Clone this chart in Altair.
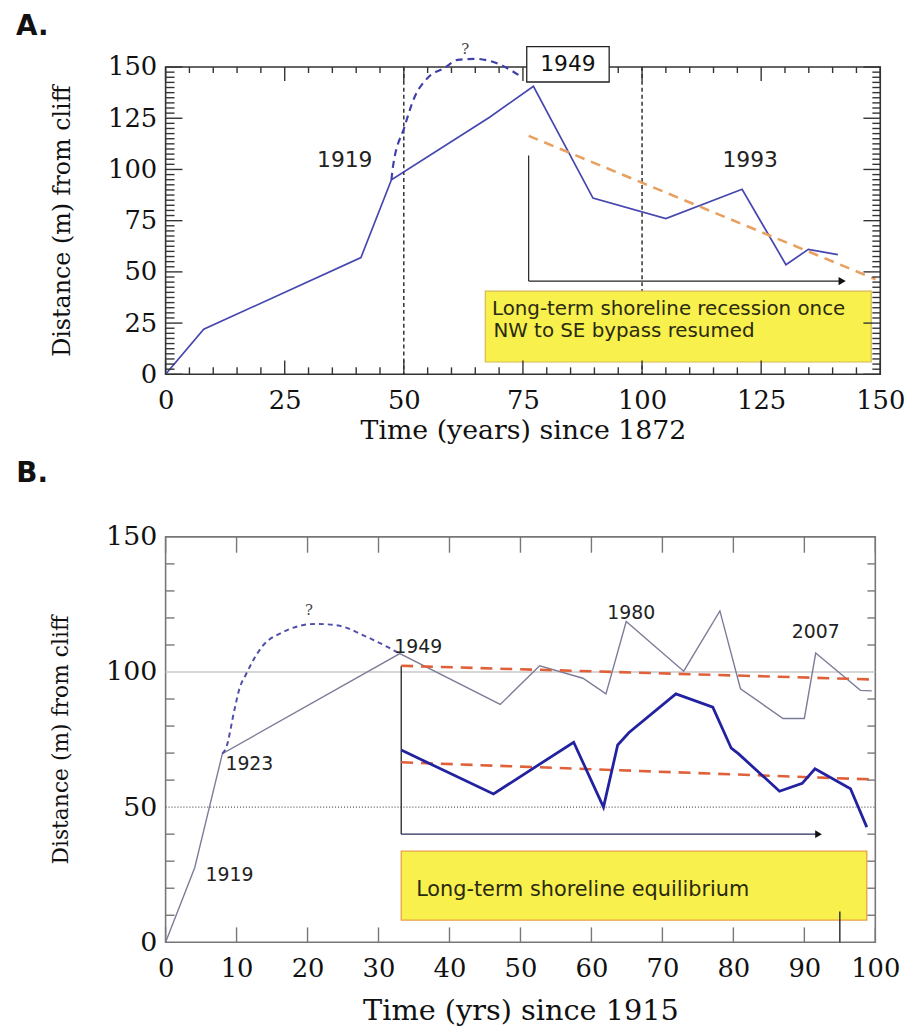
import altair as alt
import pandas as pd

# ---------------- Panel A data ----------------
a_year = [0, 8, 41, 47.4, 68, 77.2, 89.7, 105, 121, 130.2, 134.9, 141.1]
a_dist = [0, 22, 57, 95, 125.5, 140.6, 86, 76, 90.3, 53.5, 61, 58.4]
a_q_year = [47.4, 47.7, 50.1, 52.2, 55, 58.5, 61.3, 65, 68, 71, 74.5]
a_q_dist = [95, 101, 120.5, 135, 144.7, 149.5, 153.5, 154, 153, 150.3, 145.5]
a_trend_year = [76.2, 149]
a_trend_dist = [116.4, 46.4]
a_vlines = [50, 100]
a_major = [0, 25, 50, 75, 100, 125, 150]
a_x_minor = [5, 10, 15, 20, 30, 35, 40, 45, 55, 60, 65, 70, 80, 85, 90, 95,
             105, 110, 115, 120, 130, 135, 140, 145]
a_y_minor = [v * 2.5 for v in range(61) if (v * 2.5) % 25 != 0]
a_labels = ["1919", "1993"]
a_label_x = [37.6, 122.7]
a_label_y = [104.4, 104.4]
a_box_lines = ["Long-term shoreline recession once", " NW to SE bypass resumed"]
a_box_line_x = [68.5, 68.8]
a_box_line_y = [32.0, 21.2]

# ---------------- Panel B data ----------------
b_grey_year = [0, 4.1, 8, 33, 47.15, 52.7, 58.8, 62.05, 64.9, 73, 78.1, 81, 87, 90, 91.6, 97.9, 99.5]
b_grey_dist = [0, 27.6, 69.8, 106.8, 88, 102.3, 97.7, 91.9, 118.7, 100.3, 122.6, 93.8, 82.8, 82.8, 107, 93.2, 93.0]
b_q_year = [8, 8.5, 9.7, 10.4, 11.3, 13.6, 16.4, 21.1, 24.3, 28.1, 31.6, 33]
b_q_dist = [69.8, 71.8, 86, 93.8, 99, 109.4, 114.6, 117.8, 117.2, 113.3, 108.8, 106.8]
b_blue_year = [33.2, 46.2, 57.5, 61.7, 63.7, 65.3, 71.9, 77.1, 79.7, 80.7, 86.5, 89.7, 91.5, 96.5, 98.8]
b_blue_dist = [71.1, 54.9, 74, 50, 73, 77.6, 91.9, 87, 71.8, 69.8, 55.9, 58.8, 64.2, 56.8, 42.6]
b_trend_upper = [102.3, 97.2]
b_trend_lower = [66.6, 60.2]
b_trend_year = [33.2, 100]
b_x_major = [0, 10, 20, 30, 40, 50, 60, 70, 80, 90, 100]
b_y_major = [0, 50, 100, 150]
b_y_minor = [10, 20, 30, 40, 60, 70, 80, 90, 110, 120, 130, 140]
b_labels = ["1919", "1923", "1949", "1980", "2007"]
b_label_x = [9.0, 11.8, 35.6, 65.6, 91.6]
b_label_y = [25.0, 65.9, 109.4, 121.7, 114.6]

SERIF = "DejaVu Serif"
SANS = "DejaVu Sans"


def x_axis(values, title, lsize, tsize, lpad, ty, w):
    return alt.Axis(values=values, title=title, grid=False, ticks=False, domain=False,
                    labelFont=SERIF, labelFontSize=lsize, labelColor="#111", labelPadding=lpad,
                    labelFlush=False, labelOverlap=False, format="d",
                    titleFont=SERIF, titleFontSize=tsize, titleFontWeight="normal", titleColor="#111",
                    titleX=w / 2, titleY=ty, titleBaseline="middle", titleAlign="center")


def y_axis(values, title, lsize, tsize, lpad, tx, h):
    return alt.Axis(values=values, title=title, grid=False, ticks=False, domain=False,
                    labelFont=SERIF, labelFontSize=lsize, labelColor="#111", labelPadding=lpad,
                    labelFlush=False, labelOverlap=False, format="d",
                    titleFont=SERIF, titleFontSize=tsize, titleFontWeight="normal", titleColor="#111",
                    titleX=tx, titleY=h / 2, titleBaseline="middle", titleAlign="center", titleAngle=-90)


def df(**cols):
    return pd.DataFrame(cols)


# ================= Panel A =================
WA, HA = 721, 310
sxa = alt.Scale(domain=[0, 150], nice=False, zero=False)
sya = alt.Scale(domain=[0, 150], nice=False, zero=False)
XA = alt.X("x:Q", scale=sxa, axis=x_axis(a_major, "Time (years) since 1872", 26, 27, 14, 57, WA))
YA = alt.Y("y:Q", scale=sya, axis=y_axis(a_major, "Distance (m) from cliff", 26, 24, 9, -104, HA))

a_layers = []
# vertical dashed lines
a_layers.append(alt.Chart(df(x=a_vlines)).mark_rule(color="#111", strokeWidth=1.3, strokeDash=[4, 3]).encode(
    x=XA, y=alt.value(0), y2=alt.value(HA)))
# yellow box
a_layers.append(alt.Chart(df(x=[67.1], x2=[148.1], y=[6.0], y2=[40.6])).mark_rect(
    fill="#f8f04c", stroke="#d8b850", strokeWidth=1.2).encode(x=XA, x2="x2:Q", y=YA, y2="y2:Q"))
a_layers.append(alt.Chart(df(x=a_box_line_x, y=a_box_line_y, t=a_box_lines)).mark_text(
    font=SANS, fontSize=20, color="#2a2a10", align="left", baseline="middle").encode(x=XA, y=YA, text="t:N"))
# annotation lines
a_layers.append(alt.Chart(df(x=[76.2, 76.2], x2=[76.2, 142], y=[45.5, 45.5], y2=[106.8, 45.5])).mark_rule(
    color="#222", strokeWidth=1.2).encode(x=XA, x2="x2:Q", y=YA, y2="y2:Q"))
a_layers.append(alt.Chart(df(x=[142], y=[45.5])).mark_point(
    shape="triangle-right", filled=True, size=70, color="#111", opacity=1).encode(x=XA, y=YA))
# main line
a_layers.append(alt.Chart(df(x=a_year, y=a_dist)).mark_line(color="#4646b0", strokeWidth=1.7).encode(
    x=XA, y=YA, order="x:Q"))
# trend
a_layers.append(alt.Chart(df(x=a_trend_year, y=a_trend_dist)).mark_line(
    color="#e8a060", strokeWidth=2.6, strokeDash=[10, 7]).encode(x=XA, y=YA))
# dashed "?" curve
a_layers.append(alt.Chart(df(x=a_q_year, y=a_q_dist)).mark_line(
    color="#4040a8", strokeWidth=2.2, strokeDash=[7, 5], interpolate="monotone").encode(x=XA, y=YA))
# ticks
tick_a = dict(color="#333", strokeWidth=1.4)
a_layers.append(alt.Chart(df(x=a_major)).mark_rule(**tick_a).encode(x=XA, y=alt.value(HA), y2=alt.value(HA - 14)))
a_layers.append(alt.Chart(df(x=a_major)).mark_rule(**tick_a).encode(x=XA, y=alt.value(0), y2=alt.value(14)))
a_layers.append(alt.Chart(df(x=a_x_minor)).mark_rule(**tick_a).encode(x=XA, y=alt.value(HA), y2=alt.value(HA - 7)))
a_layers.append(alt.Chart(df(x=a_x_minor)).mark_rule(**tick_a).encode(x=XA, y=alt.value(0), y2=alt.value(6)))
a_layers.append(alt.Chart(df(y=a_major)).mark_rule(**tick_a).encode(y=YA, x=alt.value(0), x2=alt.value(17)))
a_layers.append(alt.Chart(df(y=a_major)).mark_rule(**tick_a).encode(y=YA, x=alt.value(WA), x2=alt.value(WA - 17)))
a_layers.append(alt.Chart(df(y=a_y_minor)).mark_rule(**tick_a).encode(y=YA, x=alt.value(0), x2=alt.value(9)))
a_layers.append(alt.Chart(df(y=a_y_minor)).mark_rule(**tick_a).encode(y=YA, x=alt.value(WA), x2=alt.value(WA - 8)))
# 1949 box (on top of the frame and ticks)
a_layers.append(alt.Chart(df(x=[75.8], x2=[93.1], y=[142.7], y2=[160.0])).mark_rect(
    fill="white", stroke="#222", strokeWidth=1.3).encode(x=XA, x2="x2:Q", y=YA, y2="y2:Q"))
a_layers.append(alt.Chart(df(x=[84.45], y=[151.3], t=["1949"])).mark_text(
    font=SANS, fontSize=22, color="#111", baseline="middle").encode(x=XA, y=YA, text="t:N"))
# labels
a_layers.append(alt.Chart(df(x=a_label_x, y=a_label_y, t=a_labels)).mark_text(
    font=SANS, fontSize=22, color="#222", baseline="middle").encode(x=XA, y=YA, text="t:N"))
a_layers.append(alt.Chart(df(x=[62.9], y=[159], t=["?"])).mark_text(
    font=SERIF, fontSize=15, color="#444", baseline="middle").encode(x=XA, y=YA, text="t:N"))
# panel letter
a_layers.append(alt.Chart(df(t=["A."])).mark_text(
    font=SANS, fontSize=28, fontWeight="bold", color="#111", align="left", baseline="middle").encode(
    x=alt.value(-151), y=alt.value(-40), text="t:N"))

panel_a = alt.layer(*a_layers).properties(
    width=WA, height=HA, view=alt.ViewBackground(stroke="#333", strokeWidth=1.6))

# ================= Panel B =================
WB, HB = 716, 409
sxb = alt.Scale(domain=[0, 100], nice=False, zero=False)
syb = alt.Scale(domain=[0, 150], nice=False, zero=False)
XB = alt.X("x:Q", scale=sxb, axis=x_axis(b_x_major, "Time (yrs) since 1915", 26, 29, 14, 69, WB))
YB = alt.Y("y:Q", scale=syb, axis=y_axis(b_y_major, "Distance (m) from cliff", 27, 22, 9, -106, HB))

b_layers = []
b_layers.append(alt.Chart(df(y=[100])).mark_rule(color="#c8c8c8", strokeWidth=1.6).encode(
    y=YB, x=alt.value(0), x2=alt.value(WB)))
b_layers.append(alt.Chart(df(y=[50])).mark_rule(color="#555", strokeWidth=1.1, strokeDash=[1, 2]).encode(
    y=YB, x=alt.value(0), x2=alt.value(WB)))
# yellow box
b_layers.append(alt.Chart(df(x=[33.2], x2=[98.8], y=[8.2], y2=[33.7])).mark_rect(
    fill="#f8f04c", stroke="#e8a040", strokeWidth=1.3).encode(x=XB, x2="x2:Q", y=YB, y2="y2:Q"))
b_layers.append(alt.Chart(df(x=[35.3], y=[19.2], t=["Long-term shoreline equilibrium"])).mark_text(
    font=SANS, fontSize=21, color="#2a2a10", align="left", baseline="middle").encode(x=XB, y=YB, text="t:N"))
# annotation lines
b_layers.append(alt.Chart(df(x=[33.2], x2=[33.2], y=[40.0], y2=[102.3])).mark_rule(
    color="#222", strokeWidth=1.3).encode(x=XB, x2="x2:Q", y=YB, y2="y2:Q"))
b_layers.append(alt.Chart(df(x=[33.2], x2=[92], y=[40.0], y2=[40.0])).mark_rule(
    color="#2a2a5a", strokeWidth=1.4).encode(x=XB, x2="x2:Q", y=YB, y2="y2:Q"))
b_layers.append(alt.Chart(df(x=[92], y=[40.0])).mark_point(
    shape="triangle-right", filled=True, size=60, color="#111", opacity=1).encode(x=XB, y=YB))
# grey line
b_layers.append(alt.Chart(df(x=b_grey_year, y=b_grey_dist)).mark_line(color="#7c7c98", strokeWidth=1.4).encode(
    x=XB, y=YB, order="x:Q"))
# dashed "?" curve
b_layers.append(alt.Chart(df(x=b_q_year, y=b_q_dist)).mark_line(
    color="#5050a8", strokeWidth=2.0, strokeDash=[5, 4], interpolate="monotone").encode(x=XB, y=YB))
# trend lines
b_layers.append(alt.Chart(df(x=b_trend_year + b_trend_year, y=b_trend_upper + b_trend_lower,
                             g=["u", "u", "l", "l"])).mark_line(
    color="#e0603a", strokeWidth=2.6, strokeDash=[12, 8]).encode(x=XB, y=YB, detail="g:N"))
# thick blue line
b_layers.append(alt.Chart(df(x=b_blue_year, y=b_blue_dist)).mark_line(color="#2222a0", strokeWidth=2.8).encode(
    x=XB, y=YB, order="x:Q"))
# labels
b_layers.append(alt.Chart(df(x=b_label_x, y=b_label_y, t=b_labels)).mark_text(
    font=SANS, fontSize=19, color="#222", baseline="middle").encode(x=XB, y=YB, text="t:N"))
b_layers.append(alt.Chart(df(x=[20.2], y=[123], t=["?"])).mark_text(
    font=SERIF, fontSize=15, color="#444", baseline="middle").encode(x=XB, y=YB, text="t:N"))
# ticks
tick_b = dict(color="#777", strokeWidth=1.4)
b_layers.append(alt.Chart(df(x=b_x_major)).mark_rule(**tick_b).encode(x=XB, y=alt.value(HB), y2=alt.value(HB - 15)))
b_layers.append(alt.Chart(df(x=b_x_major)).mark_rule(**tick_b).encode(x=XB, y=alt.value(0), y2=alt.value(16)))
b_layers.append(alt.Chart(df(y=b_y_minor)).mark_rule(**tick_b).encode(y=YB, x=alt.value(0), x2=alt.value(9)))
b_layers.append(alt.Chart(df(y=b_y_minor)).mark_rule(**tick_b).encode(y=YB, x=alt.value(WB), x2=alt.value(WB - 8)))
b_layers.append(alt.Chart(df(x=[95], x2=[95], y=[0], y2=[11.4])).mark_rule(color="#333", strokeWidth=1.5).encode(
    x=XB, x2="x2:Q", y=YB, y2="y2:Q"))
# panel letter
b_layers.append(alt.Chart(df(t=["B."])).mark_text(
    font=SANS, fontSize=28, fontWeight="bold", color="#111", align="left", baseline="middle").encode(
    x=alt.value(-150.7), y=alt.value(-63.2), text="t:N"))

panel_b = alt.layer(*b_layers).properties(
    width=WB, height=HB, view=alt.ViewBackground(stroke="#777", strokeWidth=1.6))

chart = alt.vconcat(panel_a, panel_b, spacing=15).properties(
    padding={"left": 7, "top": 0, "right": 5, "bottom": 5}
).configure_view(strokeWidth=1.6)

chart.save("out.html", embed_options={"renderer": "svg", "actions": False})
